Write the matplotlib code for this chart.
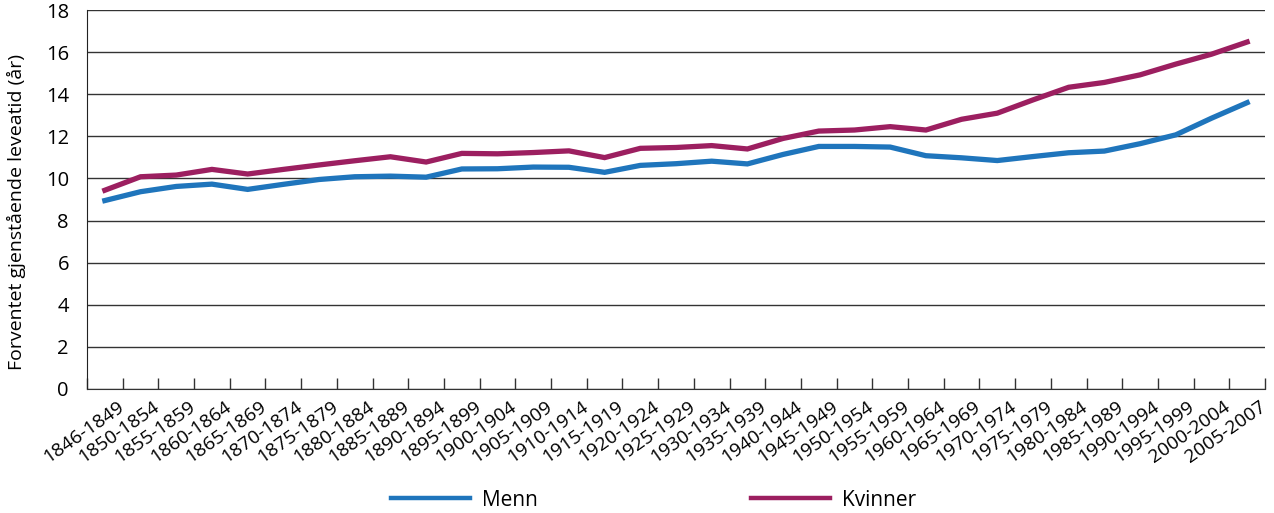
import numpy as np
import matplotlib
matplotlib.use("Agg")
import matplotlib.pyplot as plt
import matplotlib.transforms as mtransforms

periods = ["1846-1849", "1850-1854", "1855-1859", "1860-1864", "1865-1869",
           "1870-1874", "1875-1879", "1880-1884", "1885-1889", "1890-1894",
           "1895-1899", "1900-1904", "1905-1909", "1910-1914", "1915-1919",
           "1920-1924", "1925-1929", "1930-1934", "1935-1939", "1940-1944",
           "1945-1949", "1950-1954", "1955-1959", "1960-1964", "1965-1969",
           "1970-1974", "1975-1979", "1980-1984", "1985-1989", "1990-1994",
           "1995-1999", "2000-2004", "2005-2007"]

# forventet gjenstående levetid ved 65 år
menn = [8.95, 9.37, 9.62, 9.73, 9.48, 9.72, 9.95, 10.08, 10.11, 10.06,
        10.45, 10.46, 10.54, 10.53, 10.29, 10.62, 10.70, 10.82, 10.69, 11.14,
        11.52, 11.52, 11.49, 11.08, 10.98, 10.85, 11.04, 11.22, 11.30, 11.65,
        12.07, 12.86, 13.60]
kvinner = [9.44, 10.08, 10.16, 10.43, 10.21, 10.43, 10.64, 10.84, 11.03, 10.78,
           11.19, 11.17, 11.23, 11.31, 10.99, 11.43, 11.47, 11.56, 11.40, 11.90,
           12.25, 12.30, 12.46, 12.30, 12.81, 13.10, 13.73, 14.33, 14.56, 14.92,
           15.43, 15.90, 16.48]

blue = "#1f75bc"
purple = "#9c1f60"

plt.rcParams['font.family'] = ['Open Sans', 'DejaVu Sans']

fig = plt.figure(figsize=(12.74, 5.13), dpi=100)
ax = fig.add_axes([87 / 1274, 1 - 389 / 513, (1265 - 87) / 1274, (389 - 10) / 513])

x = np.arange(len(periods))
ax.plot(x, menn, color=blue, lw=3.8, solid_joinstyle='miter', label="Menn")
ax.plot(x, kvinner, color=purple, lw=3.8, solid_joinstyle='miter', label="Kvinner")

ax.set_xlim(-0.5, len(periods) - 0.5)
ax.set_ylim(0, 18)
ax.set_yticks(np.arange(0, 19, 2))
ax.yaxis.grid(True, color="#333333", lw=1.0)
ax.set_axisbelow(True)
ax.tick_params(axis='y', length=0, pad=13, labelsize=14.5)

# ticks between the periods, labels centred under each period
ax.set_xticks(np.arange(-0.5, len(periods), 1.0))
ax.set_xticklabels([])
ax.tick_params(axis='x', which='major', direction='in', length=8, width=1, color="#333333")
ax.set_xticks(x, minor=True)
ax.set_xticklabels(periods, minor=True, rotation=35, ha='right', va='top',
                   rotation_mode='anchor', fontsize=13.8)
ax.tick_params(axis='x', which='minor', length=0, pad=6)
shift = mtransforms.ScaledTranslation(12 / 100, 0, fig.dpi_scale_trans)
for lab in ax.get_xticklabels(minor=True):
    lab.set_transform(lab.get_transform() + shift)

for side in ["top", "right"]:
    ax.spines[side].set_visible(False)
ax.spines["left"].set_color("#222222")
ax.spines["bottom"].set_color("#333333")

ax.set_ylabel("Forventet gjenstående leveatid (år)", fontsize=14)
ax.yaxis.set_label_coords(-0.052, 0.467)

leg = fig.legend(loc='center', bbox_to_anchor=(0.513, 0.025), ncol=2, frameon=False,
                 fontsize=15, handlelength=3.8, columnspacing=10.2, handletextpad=0.6)
for h in leg.get_lines():
    h.set_linewidth(3.2)

fig.savefig("out.png", dpi=100)
